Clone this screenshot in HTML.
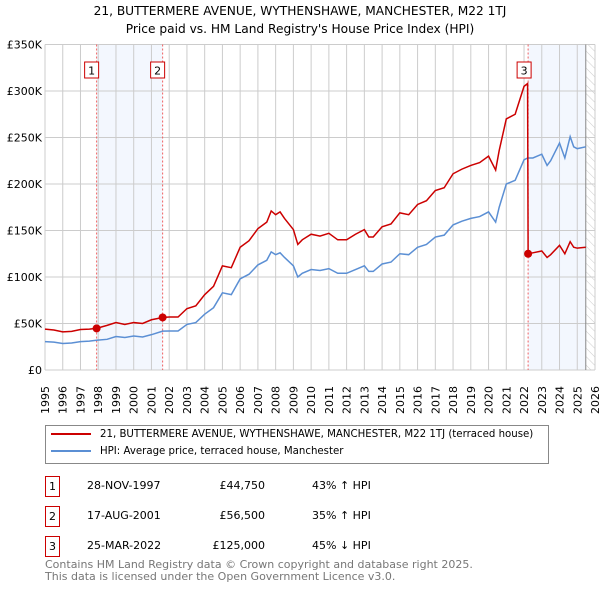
<!DOCTYPE html>
<html><head><meta charset="utf-8"><style>
body{margin:0;background:#fff;font-family:"DejaVu Sans","Liberation Sans",sans-serif;}
#wrap{position:relative;width:600px;height:590px;overflow:hidden;}
.t{position:absolute;white-space:nowrap;color:#000;}
</style></head><body>
<div id="wrap">
<div class="t" style="left:0;width:600px;text-align:center;top:2px;font-size:12.2px;line-height:18px">21, BUTTERMERE AVENUE, WYTHENSHAWE, MANCHESTER, M22 1TJ<br>Price paid vs. HM Land Registry's House Price Index (HPI)</div>
<svg id="chart" width="600" height="420" style="position:absolute;left:0;top:0"></svg>
<div style="position:absolute;left:45px;top:425px;width:502px;height:37px;border:1px solid #888;font-size:10.2px;white-space:nowrap">
 <div style="position:absolute;left:5px;top:3px"><span style="display:inline-block;width:40px;height:2px;background:#cc0000;vertical-align:middle;margin-right:9px"></span>21, BUTTERMERE AVENUE, WYTHENSHAWE, MANCHESTER, M22 1TJ (terraced house)</div>
 <div style="position:absolute;left:5px;top:20px"><span style="display:inline-block;width:40px;height:2px;background:#5b8fd4;vertical-align:middle;margin-right:9px"></span>HPI: Average price, terraced house, Manchester</div>
</div>
<div id="tbl" style="font-size:11px"></div>
<div class="t" style="left:45px;top:559px;font-size:11px;line-height:12px;color:#777">Contains HM Land Registry data © Crown copyright and database right 2025.<br>This data is licensed under the Open Government Licence v3.0.</div>
</div>
<script>
const dates=[1995.0,1995.5,1996.0,1996.5,1997.0,1997.5,1997.9,1998.5,1999.0,1999.5,2000.0,2000.5,2001.0,2001.63,2002.0,2002.5,2003.0,2003.5,2004.0,2004.5,2005.0,2005.5,2006.0,2006.5,2007.0,2007.5,2007.75,2008.0,2008.25,2008.5,2009.0,2009.25,2009.5,2010.0,2010.5,2011.0,2011.5,2012.0,2012.5,2013.0,2013.25,2013.5,2014.0,2014.5,2015.0,2015.5,2016.0,2016.5,2017.0,2017.5,2018.0,2018.5,2019.0,2019.5,2020.0,2020.4,2020.6,2021.0,2021.5,2022.0,2022.2,2022.23,2022.5,2023.0,2023.3,2023.5,2024.0,2024.3,2024.6,2024.8,2025.0,2025.48];
const hpi=[30.5,30,28.5,29,30.5,31,32,33,36,35,36.5,35.5,38,41.8,42,42,49,51,60,67,83,81,98,103,113,118,127,124,126,121,112,100,104,108,107,109,104,104,108,112,106,106,114,116,125,124,132,135,143,145,156,160,163,165,170,159,175,200,204,226,228,228,228,232,220,225,244,228,251,240,238,240];
const price=[44,43,41,41.5,43.5,44,44.75,48,51,49,51,50,54,56.5,57,57,66,69,81,90,112,110,132,139,152,159,171,167,170,163,151,135,140,146,144,147,140,140,146,151,143,143,154,157,169,167,178,182,193,196,211,216,220,223,230,215,236,270,275,305,308,125,126,128,121,124,134,125,138,132,131,132];
const saleDates=[1997.91,2001.63,2022.23];
const saleValues=[44.75,56.5,125];
const saleLabels=["1","2","3"];
const saleDateText=["28-NOV-1997","17-AUG-2001","25-MAR-2022"];
const salePriceText=["£44,750","£56,500","£125,000"];
const saleHpiText=["43% ↑ HPI","35% ↑ HPI","45% ↓ HPI"];
const yTicks=[0,50,100,150,200,250,300,350];
const yTickLabels=["£0","£50K","£100K","£150K","£200K","£250K","£300K","£350K"];
const xStart=1995,xEnd=2026;

const L=45,R=595,T=44.5,B=370;
const xs=v=>L+(v-xStart)/(xEnd-xStart)*(R-L);
const ys=v=>B-v/350*(B-T);
const svg=document.getElementById('chart');
const NS='http://www.w3.org/2000/svg';
function mk(tag,attrs,parent){const e=document.createElementNS(NS,tag);for(const k in attrs)e.setAttribute(k,attrs[k]);(parent||svg).appendChild(e);return e;}
let r=mk('rect',{x:xs(saleDates[0]),y:T,width:xs(saleDates[1])-xs(saleDates[0]),height:B-T,fill:'#eef3fd',opacity:0.7});


r=mk('rect',{x:xs(saleDates[2]),y:T,width:xs(2025.48)-xs(saleDates[2]),height:B-T,fill:'#eef3fd',opacity:0.7});


const defs=mk('defs',{});
const pat=mk('pattern',{id:'h',width:6,height:6,patternUnits:'userSpaceOnUse',patternTransform:'rotate(-45)'},defs);
mk('line',{x1:0,y1:0,x2:0,y2:6,stroke:'#ccc','stroke-width':1},pat);
r=mk('rect',{x:xs(2025.48),y:T,width:R-xs(2025.48),height:B-T,fill:'url(#h)'});


for(let y=xStart;y<=xEnd;y++){
 const g=mk('line',{x1:xs(y),x2:xs(y),y1:T,y2:B,stroke:'#ccc','stroke-width':1});
 
 
 const t=mk('text',{x:0,y:0,transform:`translate(${xs(y)+4},${B+44}) rotate(-90)`,'font-size':11,'font-family':'DejaVu Sans, Liberation Sans, sans-serif',fill:'#000'});
 t.textContent=y;
 
 
}
yTicks.forEach((v,i)=>{
 const g=mk('line',{x1:L,x2:R,y1:ys(v),y2:ys(v),stroke:'#ccc','stroke-width':1});
 
 
 const t=mk('text',{x:L-3,y:ys(v)+4,'text-anchor':'end','font-size':11,'font-family':'DejaVu Sans, Liberation Sans, sans-serif',fill:'#000'});
 t.textContent=yTickLabels[i];
 
 
});
mk('line',{x1:xs(2025.48),x2:xs(2025.48),y1:T,y2:B,stroke:'#888','stroke-width':1});
saleDates.forEach((d,i)=>{
 const l=mk('line',{x1:xs(d),x2:xs(d),y1:T,y2:B,stroke:'#f06060','stroke-width':1,'stroke-dasharray':'2,2'});
 
 
});
const hp=mk('polyline',{points:dates.map((d,i)=>xs(d)+','+ys(hpi[i])).join(' '),fill:'none',stroke:'#5b8fd4','stroke-width':1.5});


const pp=mk('polyline',{points:dates.map((d,i)=>xs(d)+','+ys(price[i])).join(' '),fill:'none',stroke:'#cc0000','stroke-width':1.5});


saleDates.forEach((d,i)=>{
 const c=mk('circle',{cx:xs(d),cy:ys(saleValues[i]),r:4,fill:'#cc0000'});
 
 
 const b=mk('rect',{x:xs(d)-(i==2?11:12),y:62,width:14,height:16,fill:'#fff',stroke:'#cc0000'});
 
 
 const t=mk('text',{x:xs(d)-(i==2?4:5),y:74.5,'text-anchor':'middle','font-size':11,'font-family':'DejaVu Sans, sans-serif'});
 t.textContent=saleLabels[i];
 
 
});
const tbl=document.getElementById('tbl');
saleLabels.forEach((s,i)=>{
 const top=476+i*30;
 const row=document.createElement('div');
 
 
 row.style.cssText=`position:absolute;left:0;top:${top}px;width:600px;height:20px`;
 row.innerHTML=`<div style="position:absolute;left:45px;top:0;width:13px;height:19px;border:1px solid #cc0000;text-align:center;line-height:19px">${s}</div>
 <div class="t" style="left:87px;top:3px">${saleDateText[i]}</div>
 <div class="t" style="left:180px;width:85px;text-align:right;top:3px">${salePriceText[i]}</div>
 <div class="t" style="left:312px;top:3px">${saleHpiText[i]}</div>`;
 tbl.appendChild(row);
});
</script>
</body></html>
